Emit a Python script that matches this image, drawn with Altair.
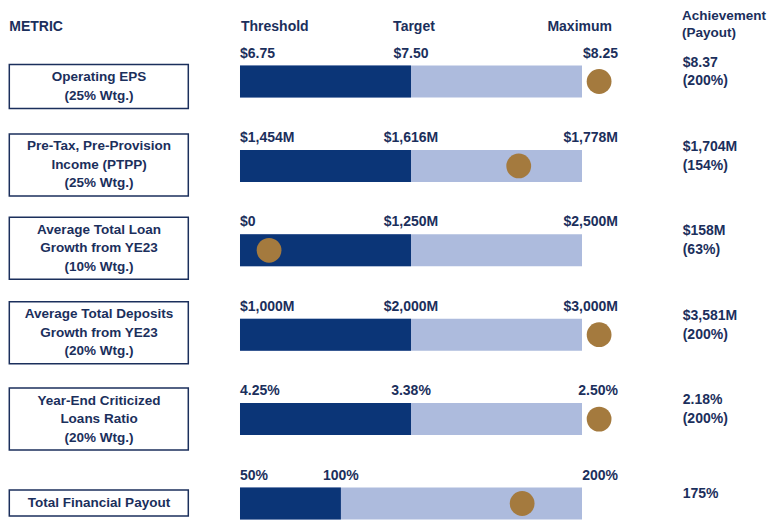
import altair as alt
import pandas as pd

# ---------------- data ----------------
metric_lines = [
    ["Operating EPS", "(25% Wtg.)"],
    ["Pre-Tax, Pre-Provision", "Income (PTPP)", "(25% Wtg.)"],
    ["Average Total Loan", "Growth from YE23", "(10% Wtg.)"],
    ["Average Total Deposits", "Growth from YE23", "(20% Wtg.)"],
    ["Year-End Criticized", "Loans Ratio", "(20% Wtg.)"],
    ["Total Financial Payout"],
]
threshold_labels = ["$6.75", "$1,454M", "$0", "$1,000M", "4.25%", "50%"]
target_labels = ["$7.50", "$1,616M", "$1,250M", "$2,000M", "3.38%", "100%"]
max_labels = ["$8.25", "$1,778M", "$2,500M", "$3,000M", "2.50%", "200%"]
achievement_lines = [
    ["$8.37", "(200%)"],
    ["$1,704M", "(154%)"],
    ["$158M", "(63%)"],
    ["$3,581M", "(200%)"],
    ["2.18%", "(200%)"],
    ["175%"],
]
# positions on a common scale: threshold = 0, target = 1 (payout row: 0.59), maximum = 2
target_pos = [1.0, 1.0, 1.0, 1.0, 1.0, 0.59]
max_pos = [2.0, 2.0, 2.0, 2.0, 2.0, 2.0]
marker_pos = [2.10, 1.63, 0.17, 2.10, 2.10, 1.65]

# ---------------- style / layout ----------------
NAVY = "#0b3577"
LIGHT = "#adbbdd"
GOLD = "#a47a3e"
TEXT = "#1b2f5c"
FONT = "Liberation Sans"
ROW_PX = 84.4
BAR_HALF_PX = 16
BOX_SHIFT_PX = [5, -1, -2, -2, 0, -0.5]
BOX_LH = 18.5
ACH_LH = 18.8

n = len(metric_lines)
df = pd.DataFrame({
    "row": list(range(n)),
    "metric": metric_lines,
    "thr": threshold_labels,
    "tgt": target_labels,
    "mx": max_labels,
    "ach": achievement_lines,
    "tpos": target_pos,
    "mpos": max_pos,
    "marker": marker_pos,
})
df["zero"] = 0.0
df["bar_top"] = df["row"] - BAR_HALF_PX / ROW_PX
df["bar_bot"] = df["row"] + BAR_HALF_PX / ROW_PX
nl = [len(m) for m in metric_lines]
na = [len(a) for a in achievement_lines]
df["box_c"] = [r + s / ROW_PX for r, s in zip(df["row"], BOX_SHIFT_PX)]
df["box_top"] = [c - (13 + 9 * (k - 1)) / ROW_PX for c, k in zip(df["box_c"], nl)]
df["box_bot"] = [c + (13 + 9 * (k - 1)) / ROW_PX for c, k in zip(df["box_c"], nl)]
df["box_t1"] = [c - (k - 1) * BOX_LH / 2 / ROW_PX for c, k in zip(df["box_c"], nl)]
df["ach_t1"] = [r + (-9.5 - (k - 1) * ACH_LH / 2) / ROW_PX for r, k in zip(df["row"], na)]

xs = alt.Scale(domain=[-1.3567, 3.0877], nice=False, zero=False)
ys = alt.Scale(domain=[-0.871, 5.219], nice=False, zero=False, reverse=True)

base = alt.Chart(df)

light_bar = base.mark_rect(color=LIGHT).encode(
    x=alt.X("zero:Q", scale=xs, axis=None),
    x2="mpos:Q",
    y=alt.Y("bar_top:Q", scale=ys, axis=None),
    y2="bar_bot:Q",
)
dark_bar = base.mark_rect(color=NAVY).encode(
    x=alt.X("zero:Q", scale=xs, axis=None),
    x2="tpos:Q",
    y=alt.Y("bar_top:Q", scale=ys, axis=None),
    y2="bar_bot:Q",
)
dots = base.mark_circle(color=GOLD, opacity=1, size=615).encode(
    x=alt.X("marker:Q", scale=xs, axis=None),
    y=alt.Y("row:Q", scale=ys, axis=None),
)

txt = dict(font=FONT, fontWeight="bold", fontSize=14, color=TEXT, baseline="middle")

thr_text = base.mark_text(align="left", dy=-28, **txt).encode(
    x=alt.X("zero:Q", scale=xs), y=alt.Y("row:Q", scale=ys), text="thr:N"
)
tgt_text = base.mark_text(align="center", dy=-28, **txt).encode(
    x=alt.X("tpos:Q", scale=xs), y=alt.Y("row:Q", scale=ys), text="tgt:N"
)
max_text = base.mark_text(align="right", dy=-28, dx=36, **txt).encode(
    x=alt.X("mpos:Q", scale=xs), y=alt.Y("row:Q", scale=ys), text="mx:N"
)
ach_text = base.mark_text(align="left", lineHeight=ACH_LH, **txt).encode(
    x=alt.value(674.7), y=alt.Y("ach_t1:Q", scale=ys), text="ach:N"
)

boxes = base.mark_rect(fill="white", stroke=TEXT, strokeWidth=1.5).encode(
    x=alt.value(1.3), x2=alt.value(180.3),
    y=alt.Y("box_top:Q", scale=ys), y2="box_bot:Q",
)
box_txt = dict(txt)
box_txt["fontSize"] = 13.5
box_text = base.mark_text(align="center", lineHeight=BOX_LH, **box_txt).encode(
    x=alt.value(91), y=alt.Y("box_t1:Q", scale=ys), text="metric:N"
)

hdr = alt.Chart(pd.DataFrame({"t": ["METRIC"]}))
h_metric = hdr.mark_text(align="left", **txt).encode(
    x=alt.value(1.3), y=alt.value(18.7), text="t:N"
)
h_thr = alt.Chart(pd.DataFrame({"t": ["Threshold"], "p": [0.0]})).mark_text(
    align="left", dx=1, **txt
).encode(x=alt.X("p:Q", scale=xs), y=alt.value(18.7), text="t:N")
h_tgt = alt.Chart(pd.DataFrame({"t": ["Target"], "p": [1.0]})).mark_text(
    align="center", dx=3, **txt
).encode(x=alt.X("p:Q", scale=xs), y=alt.value(18.7), text="t:N")
h_max = alt.Chart(pd.DataFrame({"t": ["Maximum"], "p": [2.0]})).mark_text(
    align="right", dx=30, **txt
).encode(x=alt.X("p:Q", scale=xs), y=alt.value(18.7), text="t:N")
ach_hdr = dict(txt)
ach_hdr["fontSize"] = 13.5
h_ach = alt.Chart(pd.DataFrame({"t": [["Achievement", "(Payout)"]]})).mark_text(
    align="left", lineHeight=17.5, **ach_hdr
).encode(x=alt.value(674), y=alt.value(7.5), text="t:N")

chart = alt.layer(
    light_bar, dark_bar, dots,
    thr_text, tgt_text, max_text, ach_text,
    boxes, box_text,
    h_metric, h_thr, h_tgt, h_max, h_ach,
).properties(
    width=760, height=514, padding=0, autosize=alt.AutoSizeParams(type="none"),
    background="white",
).configure_view(stroke=None)

chart.save("out.html", embed_options={"renderer": "svg", "actions": False})
